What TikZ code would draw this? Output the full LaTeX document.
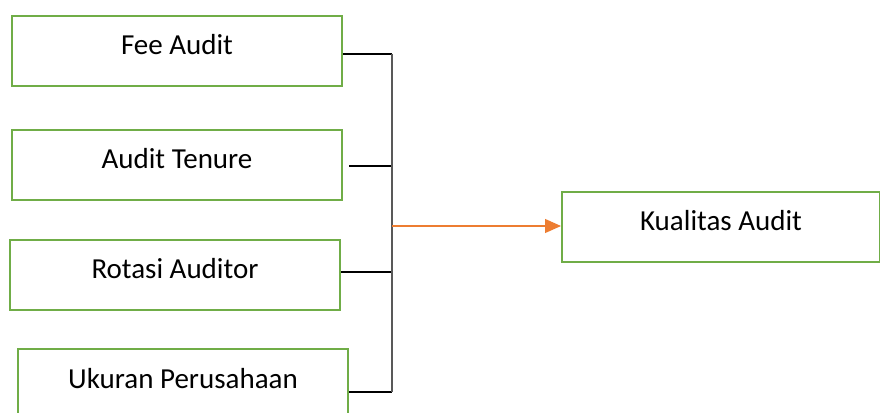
\documentclass[tikz,border=0pt]{standalone}
\usepackage{fontspec}
\setmainfont{Carlito}
\usetikzlibrary{arrows.meta}
\definecolor{boxgreen}{HTML}{70AD47}
\definecolor{arrorange}{HTML}{ED7D31}
\definecolor{linegray}{HTML}{595959}
\tikzset{
  varbox/.style={draw=boxgreen, line width=2pt, fill=white, rectangle,
    minimum width=330pt, inner xsep=0pt, inner ysep=0pt,
    text height=39pt, text depth=31pt,
    font=\fontsize{29}{35}\selectfont},
  conn/.style={draw=black, line width=1.2pt},
  trunk/.style={draw=linegray, line width=2pt},
  flow/.style={draw=arrorange, line width=1.2pt, -{Triangle[length=16pt,width=14pt]}}
}
\begin{document}
\begin{tikzpicture}[x=1pt,y=-1pt]
\useasboundingbox (0,0) rectangle (880,412);
\node[varbox] (fee) at (177,51) {Fee Audit};
\node[varbox] (ten) at (177,164.5) {Audit Tenure};
\node[varbox] (rot) at (175,274.5) {Rotasi Auditor};
\node[varbox] (uku) at (183,384) {Ukuran Perusahaan};
\node[varbox, minimum width=318pt] (kua) at (721,226.5) {Kualitas Audit};
\coordinate (jtop) at (392,54);
\coordinate (jten) at (392,166);
\coordinate (jrot) at (392,272);
\coordinate (jbot) at (392,392);
\coordinate (jmid) at (392,226);
\draw[conn] (fee.east |- jtop) -- (jtop);
\draw[conn] ([xshift=6pt]ten.east |- jten) -- (jten);
\draw[conn] (rot.east |- jrot) -- (jrot);
\draw[conn] (uku.east |- jbot) -- (jbot);
\draw[trunk] (jtop) -- (jbot);
\draw[flow] (jmid) -- (kua.west |- jmid);
\end{tikzpicture}
\end{document}
